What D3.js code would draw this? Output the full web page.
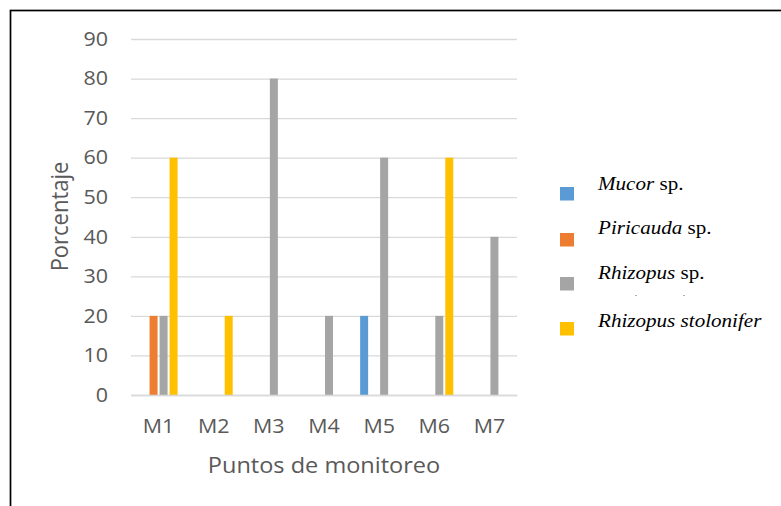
<!DOCTYPE html>
<html>
<head>
<meta charset="utf-8">
<script src="https://cdn.jsdelivr.net/npm/d3@7"></script>
<style>
  html, body { margin: 0; padding: 0; background: #fff; }
  svg { display: block; }
</style>
</head>
<body>
<svg id="chart" width="781" height="506"></svg>
<script>
// Monitoring points and the percentage of each fungus found at them
const points = ["M1", "M2", "M3", "M4", "M5", "M6", "M7"];
const mucor = [0, 0, 0, 0, 20, 0, 0];
const piricauda = [20, 0, 0, 0, 0, 0, 0];
const rhizopusSp = [20, 0, 80, 20, 60, 20, 40];
const rhizopusStolonifer = [60, 20, 0, 0, 0, 60, 0];
const yTicks = [0, 10, 20, 30, 40, 50, 60, 70, 80, 90];

const series = [
  { key: "mucor", genus: "Mucor", rest: " sp.", values: mucor, color: "#5b9bd5" },
  { key: "piricauda", genus: "Piricauda", rest: " sp.", values: piricauda, color: "#ed7d31" },
  { key: "rhizopusSp", genus: "Rhizopus", rest: " sp.", values: rhizopusSp, color: "#a5a5a5" },
  { key: "stolonifer", genus: "Rhizopus stolonifer", rest: "", values: rhizopusStolonifer, color: "#ffc000" }
];

const svg = d3.select("#chart");
const plot = { left: 131, right: 517, top: 39, bottom: 395 };
const stretch = 1.1;           // glyphs are drawn slightly wide
const sans = "'Open Sans', sans-serif";
const grey = "#595959";

// outer frame (runs past the right and bottom edges)
svg.append("rect")
  .attr("x", 10.5).attr("y", 10.5)
  .attr("width", 800).attr("height", 520)
  .attr("fill", "none").attr("stroke", "#000").attr("stroke-width", 1.7);

const x0 = d3.scaleBand().domain(points).range([plot.left, plot.right]).padding(0);
const x1 = d3.scaleBand().domain(series.map(s => s.key))
  .range([x0.bandwidth() / 2 - 20, x0.bandwidth() / 2 + 20])
  .paddingInner(0.2).paddingOuter(0.1);
const y = d3.scaleLinear().domain([0, 90]).range([plot.bottom, plot.top]);

// horizontal gridlines and value labels
const yAxis = d3.axisLeft(y).tickValues(yTicks)
  .tickSize(-(plot.right - plot.left)).tickPadding(23);
const gy = svg.append("g").attr("transform", `translate(${plot.left},0)`).call(yAxis);
gy.select(".domain").remove();
gy.selectAll(".tick line").attr("stroke", "#d9d9d9").attr("stroke-width", 1.3);
gy.selectAll(".tick text")
  .attr("fill", grey)
  .attr("x", -23 / stretch)
  .attr("transform", `scale(${stretch},1)`)
  .style("font-family", sans)
  .style("font-size", "19.5px");

// bars
const groups = svg.append("g").selectAll("g")
  .data(points).join("g")
  .attr("transform", d => `translate(${x0(d)},0)`);
groups.selectAll("rect")
  .data((d, i) => series.map(s => ({ key: s.key, value: s.values[i], color: s.color })))
  .join("rect")
  .filter(d => d.value > 0)
  .attr("x", d => x1(d.key))
  .attr("width", x1.bandwidth())
  .attr("y", d => y(d.value))
  .attr("height", d => y(0) - y(d.value))
  .attr("fill", d => d.color);

// category axis
const xAxis = d3.axisBottom(x0).tickSize(0).tickPadding(24);
const gx = svg.append("g").attr("transform", `translate(0,${plot.bottom})`).call(xAxis);
gx.select(".domain").attr("stroke", "#d9d9d9").attr("stroke-width", 1.3);
gx.selectAll(".tick text")
  .attr("fill", grey)
  .attr("transform", `scale(${stretch},1)`)
  .style("font-family", sans)
  .style("font-size", "19.5px");

// axis titles
svg.append("text")
  .attr("transform", `translate(324,472.5) scale(1.07,1)`)
  .attr("text-anchor", "middle")
  .attr("fill", grey)
  .style("font-family", sans)
  .style("font-size", "22px")
  .text("Puntos de monitoreo");

svg.append("text")
  .attr("transform", `translate(68,216.5) scale(${stretch},1) rotate(-90)`)
  .attr("text-anchor", "middle")
  .attr("fill", grey)
  .style("font-family", sans)
  .style("font-size", "22px")
  .text("Porcentaje");

// legend
const swatchTops = [187, 233, 277, 322];
const baselines = [189.5, 233.5, 279, 326.7];
const legend = svg.append("g");
series.forEach((s, i) => {
  legend.append("rect")
    .attr("x", 560).attr("y", swatchTops[i])
    .attr("width", 14).attr("height", 13.5)
    .attr("fill", s.color);
  const t = legend.append("text")
    .attr("transform", `translate(598,${baselines[i]}) scale(1.14,1)`)
    .attr("fill", "#000")
    .style("font-family", "'Liberation Serif', 'Times New Roman', serif")
    .style("font-size", "18.5px");
  t.append("tspan").style("font-style", "italic").text(s.genus);
  if (s.rest) t.append("tspan").text(s.rest);
});

// two faint specks left under the third legend entry
legend.selectAll("rect.speck")
  .data([635, 683]).join("rect")
  .attr("class", "speck")
  .attr("x", d => d).attr("y", 295)
  .attr("width", 2).attr("height", 1)
  .attr("fill", "#b0b0b0");
</script>
</body>
</html>
